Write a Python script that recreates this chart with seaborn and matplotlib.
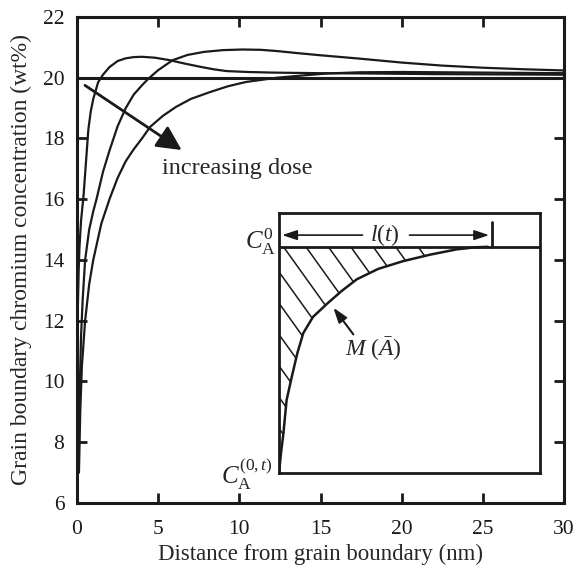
import matplotlib
matplotlib.use("Agg")
import matplotlib.pyplot as plt
import seaborn as sns
import numpy as np

# ---- data ----
xA = [0.05, 0.1, 0.15, 0.25, 0.4, 0.55, 0.7, 0.85, 1.0, 1.3, 1.6, 2.0, 2.5, 3.0, 3.5, 4.0,
      4.8, 5.7, 6.6, 7.6, 8.4, 9.2, 10.5, 12.0, 15.0, 18.0, 22.0, 26.0, 30.0]
yA = [12.4, 13.6, 14.4, 15.3, 16.1, 17.2, 18.3, 18.9, 19.3, 19.85, 20.1, 20.35, 20.55, 20.64, 20.68, 20.69,
      20.66, 20.58, 20.47, 20.36, 20.28, 20.22, 20.19, 20.17, 20.15, 20.14, 20.12, 20.11, 20.1]

xB = [0.08, 0.12, 0.18, 0.25, 0.35, 0.5, 0.75, 1.0, 1.2, 1.6, 2.0, 2.5, 3.0, 3.5, 4.0, 4.4,
      5.0, 5.9, 6.8, 7.8, 9.0, 10.2, 11.3, 12.3, 13.6, 15.0, 17.4, 20.0, 22.5, 25.0, 27.5, 30.0]
yB = [7.0, 8.5, 10.0, 11.5, 12.7, 14.0, 15.0, 15.6, 16.0, 16.9, 17.6, 18.4, 19.0, 19.45, 19.75, 19.97,
      20.25, 20.58, 20.75, 20.85, 20.91, 20.93, 20.92, 20.88, 20.81, 20.74, 20.63, 20.5, 20.4, 20.33, 20.28, 20.24]

xC = [0.12, 0.2, 0.3, 0.5, 0.75, 1.0, 1.5, 2.0, 2.5, 3.0, 3.5, 4.0, 4.5, 5.3, 6.1, 7.0,
      8.2, 9.3, 10.4, 12.3, 14.0, 15.4, 17.4, 20.0, 25.0, 30.0]
yC = [7.0, 9.0, 10.5, 12.0, 13.2, 14.0, 15.2, 16.0, 16.7, 17.25, 17.65, 18.0, 18.38, 18.75, 19.04, 19.3,
      19.53, 19.72, 19.86, 20.0, 20.08, 20.14, 20.18, 20.19, 20.17, 20.15]

reference_level = 20.0
x_ticks = [0, 5, 10, 15, 20, 25, 30]
y_ticks = [6, 8, 10, 12, 14, 16, 18, 20, 22]

# inset schematic profile (normalised coordinates)
inset_x = [0.0, 0.008, 0.017, 0.029, 0.049, 0.07, 0.093, 0.13, 0.183, 0.24, 0.298, 0.38, 0.476, 0.58, 0.68, 0.75, 0.8]
inset_y = [0.0, 0.08, 0.153, 0.28, 0.37, 0.46, 0.538, 0.6, 0.65, 0.70, 0.745, 0.785, 0.815, 0.84, 0.86, 0.868, 0.87]
inset_top = 0.87

# ---- style ----
sns.set_theme(style="ticks")
plt.rcParams["font.family"] = ["Liberation Serif", "DejaVu Serif"]
plt.rcParams["mathtext.fontset"] = "custom"
plt.rcParams["mathtext.rm"] = "Liberation Serif"
plt.rcParams["mathtext.it"] = "Liberation Serif:italic"
plt.rcParams["mathtext.bf"] = "Liberation Serif:bold"

fig = plt.figure(figsize=(5.74, 5.69), dpi=100)
ax = fig.add_axes([77 / 574, 1 - 503 / 569, 487 / 574, 486 / 569])

lw = 1.6
for xs, ys in [(xA, yA), (xB, yB), (xC, yC)]:
    sns.lineplot(x=xs, y=ys, ax=ax, color="k", lw=lw, sort=False, estimator=None)
ax.axhline(reference_level, color="k", lw=2.2)

ax.set_xlim(0, 30)
ax.set_ylim(6, 22)
ax.set_xticks(x_ticks)
ax.set_yticks(y_ticks)
ax.tick_params(direction="in", length=7, width=2, top=True, right=True,
               labelsize=15.5, colors="k")
ax.tick_params(axis="x", pad=12)
ax.tick_params(axis="y", pad=9)
for s in ax.spines.values():
    s.set_linewidth(2.2)
    s.set_color("k")
ax.set_xlabel("Distance from grain boundary (nm)", fontsize=16.5, labelpad=4)
ax.set_ylabel("Grain boundary chromium concentration (wt%)", fontsize=17, labelpad=8)

ax.annotate("", xy=(6.45, 17.62), xytext=(0.49, 19.75),
            arrowprops=dict(arrowstyle="-|>,head_length=0.6,head_width=0.3",
                            mutation_scale=25, lw=2, color="k", shrinkA=0, shrinkB=0))
ax.text(5.22, 17.02, "increasing dose", fontsize=17.5, ha="left", va="center")

# ---- inset ----
ins = fig.add_axes([279 / 574, 1 - 473 / 569, 261 / 574, 260 / 569])
ins.set_xlim(0, 1)
ins.set_ylim(0, 1)
ins.set_xticks([])
ins.set_yticks([])
for s in ins.spines.values():
    s.set_linewidth(2)
    s.set_color("k")
sns.lineplot(x=inset_x, y=inset_y, ax=ins, color="k", lw=1.8, sort=False, estimator=None)
ins.axhline(inset_top, color="k", lw=2)

poly = ins.fill_between(inset_x, inset_y, inset_top, facecolor="none", edgecolor="none")
clip = poly.get_paths()[0]
slope = 1.4
for i in range(-8, 7):
    xt = 0.017 + i * 0.086
    x0, x1 = xt - 0.2, xt + 0.8
    ln, = ins.plot([x0, x1], [inset_top + slope * 0.2, inset_top - slope * 0.8], color="k", lw=1.1)
    ln.set_clip_path(clip, transform=ins.transData)

# l(t) marker
ins.plot([0.815, 0.815], [inset_top, 0.967], color="k", lw=2)
ins.text(0.406, 0.915, r"$l(t)$", fontsize=17, ha="center", va="center")
arrow_kw = dict(arrowstyle="-|>,head_length=0.6,head_width=0.2", mutation_scale=15,
                lw=1.2, color="k", shrinkA=0, shrinkB=0)
ins.annotate("", xy=(0.012, 0.915), xytext=(0.32, 0.915), arrowprops=arrow_kw)
ins.annotate("", xy=(0.805, 0.915), xytext=(0.5, 0.915), arrowprops=arrow_kw)

ins.annotate("", xy=(0.208, 0.636), xytext=(0.285, 0.533),
             arrowprops=dict(arrowstyle="-|>,head_length=0.6,head_width=0.2", mutation_scale=15,
                             lw=1.5, color="k", shrinkA=0, shrinkB=0))
ins.text(0.36, 0.475, r"$M\ (\bar{A})$", fontsize=17, ha="center", va="center")

fig.text(276 / 574, 1 - 242 / 569, r"$C_{\mathrm{A}}^{\mathit{0}}$", fontsize=18, ha="right", va="center")
fig.text(273 / 574, 1 - 474 / 569, r"$C_{\mathrm{A}}^{(0,t)}$", fontsize=18, ha="right", va="center")

fig.savefig("out.png", dpi=100)
